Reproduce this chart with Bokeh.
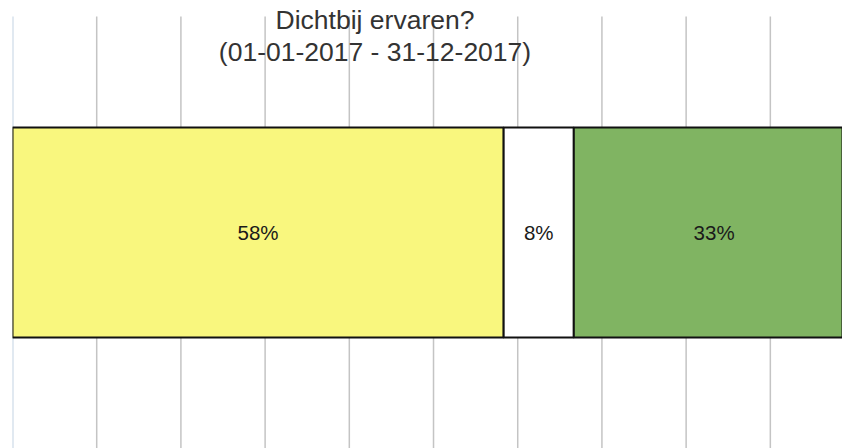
from bokeh.plotting import figure
from bokeh.models import Range1d, Label, ColumnDataSource
from bokeh.embed import file_html
from bokeh.resources import INLINE

# Data
categories = ["Ja", "Neutraal", "Nee"]
shares = [58.33, 8.33, 33.33]
share_labels = ["58%", "8%", "33%"]
colors = ["#F9F77E", "#FFFFFF", "#80B462"]
title_lines = ["Dichtbij ervaren?", "(01-01-2017 - 31-12-2017)"]
grid_ticks = [10, 20, 30, 40, 50, 60, 70, 80, 90, 100]

lefts, rights, mids = [], [], []
acc = 0.0
for s in shares:
    lefts.append(acc)
    rights.append(acc + s)
    mids.append(acc + s / 2)
    acc += s

src = ColumnDataSource(dict(cat=categories, left=lefts, right=rights, mid=mids,
                            color=colors, label=share_labels))

p = figure(width=842, height=448, output_backend="svg", toolbar_location=None,
           x_range=Range1d(0, 98.57), y_range=Range1d(0, 448 / 432),
           min_border_left=12, min_border_right=0, min_border_top=0, min_border_bottom=0)
p.xaxis.visible = False
p.yaxis.visible = False
p.outline_line_color = None
p.xgrid.grid_line_color = None
p.ygrid.grid_line_color = None

# vertical grid lines (start below the top of the plot area)
p.segment(x0=grid_ticks, y0=[0] * len(grid_ticks), x1=grid_ticks, y1=[1.0] * len(grid_ticks),
          line_color="#C4C4C4", line_width=1.5)
# value axis line
p.segment(x0=[0], y0=[0], x1=[0], y1=[1.0], line_color="#C3D3E3", line_width=2)

p.hbar(y=0.5, left="left", right="right", height=0.486, source=src,
       fill_color="color", line_color="#111111", line_width=2)

for m, lab in zip(mids, share_labels):
    p.add_layout(Label(x=m, y=0.499, text=lab, text_align="center",
                       text_baseline="alphabetic", text_font="Liberation Sans",
                       text_font_size="20.5px", text_color="#1a1a1a"))

for i, t in enumerate(title_lines):
    p.add_layout(Label(x=43.05, y=[0.991, 0.917][i], text=t, text_align="center",
                       text_baseline="alphabetic", text_font="Liberation Sans",
                       text_font_size="26.5px", text_color="#333333"))

open("out.html", "w").write(file_html(p, INLINE))
